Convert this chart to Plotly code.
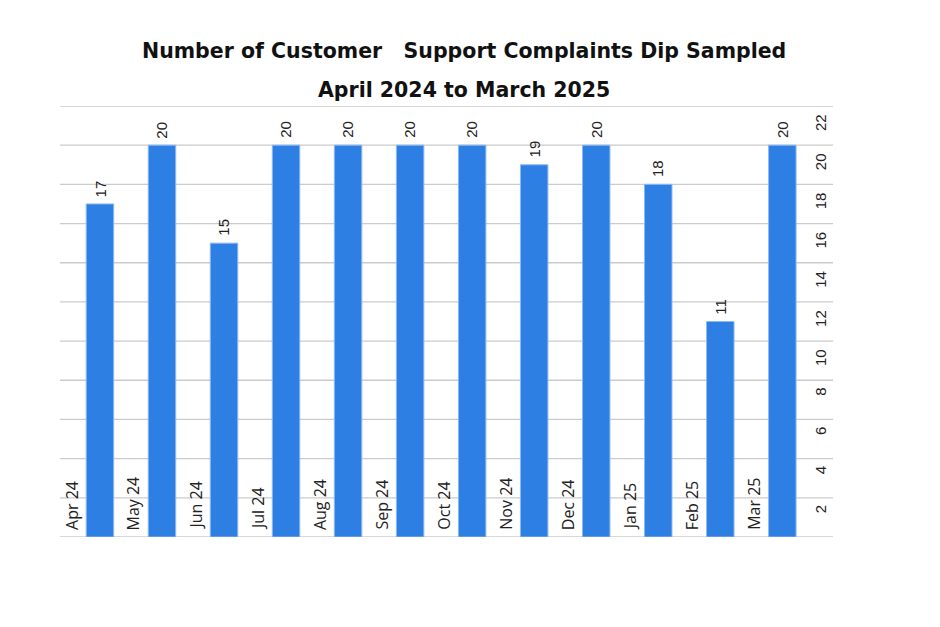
import plotly.graph_objects as go

categories = ["Apr 24", "May 24", "Jun 24", "Jul 24", "Aug 24", "Sep 24",
              "Oct 24", "Nov 24", "Dec 24", "Jan 25", "Feb 25", "Mar 25"]
complaints = [17, 20, 15, 20, 20, 20, 20, 19, 20, 18, 11, 20]
y_ticks = [2, 4, 6, 8, 10, 12, 14, 16, 18, 20, 22]
title_line1 = "Number of Customer \u00a0 Support Complaints Dip Sampled"
title_line2 = "April 2024 to March 2025"

BAR = "#2E7FE3"
NUM_FONT = dict(family="Liberation Sans, Arial", size=15, color="#222222")
CAT_FONT = dict(family="Open Sans", size=16, color="#222222")
TITLE_FONT = dict(family="DejaVu Sans", size=20.5, color="#111111")

xpos = list(range(len(categories)))

fig = go.Figure()
fig.add_trace(go.Bar(
    x=xpos, y=complaints, width=0.443,
    marker=dict(color=BAR, line=dict(color="#8DB9F2", width=1)),
    hoverinfo="skip",
))

annotations = []
for i, v in zip(xpos, complaints):
    annotations.append(dict(x=i, y=v, xref="x", yref="y", text=str(v),
                            textangle=-90, showarrow=False, yanchor="bottom",
                            xanchor="center", yshift=5, font=NUM_FONT))
for i, c in zip(xpos, categories):
    annotations.append(dict(x=i, y=0, xref="x", yref="y", text=c,
                            textangle=-90, showarrow=False, yanchor="bottom",
                            xanchor="center", xshift=-28.5, yshift=5, font=CAT_FONT))
for t in y_ticks:
    annotations.append(dict(x=1, y=t, xref="paper", yref="y", text=str(t),
                            textangle=-90, showarrow=False, yanchor="top",
                            xanchor="right", xshift=-2, yshift=-6, font=NUM_FONT))

H = 627 - 106 - 90
def ypaper(px):
    return (627 - 90 - px) / H

annotations.append(dict(x=0.522, y=ypaper(51), xref="paper", yref="paper",
                        text="<b>" + title_line1 + "</b>", showarrow=False,
                        xanchor="center", yanchor="middle", font=TITLE_FONT))
annotations.append(dict(x=0.522, y=ypaper(90), xref="paper", yref="paper",
                        text="<b>" + title_line2 + "</b>", showarrow=False,
                        xanchor="center", yanchor="middle", font=TITLE_FONT))

# gridlines (including the 0 baseline and the top 22 line)
shapes = [dict(type="line", xref="paper", yref="y", x0=0, x1=1, y0=t, y1=t,
               line=dict(color="#CBCBCB", width=1.3), layer="below")
          for t in [0] + y_ticks]

fig.update_layout(
    width=940, height=627,
    margin=dict(l=60, r=107, t=106, b=90),
    paper_bgcolor="white", plot_bgcolor="white",
    showlegend=False,
    annotations=annotations,
    shapes=shapes,
    xaxis=dict(range=[-0.644, 11.817], showticklabels=False, showgrid=False,
               zeroline=False, showline=False, ticks=""),
    yaxis=dict(range=[0, 22], showticklabels=False, showgrid=False,
               zeroline=False, showline=False, ticks=""),
)

fig.write_html("out.html")
